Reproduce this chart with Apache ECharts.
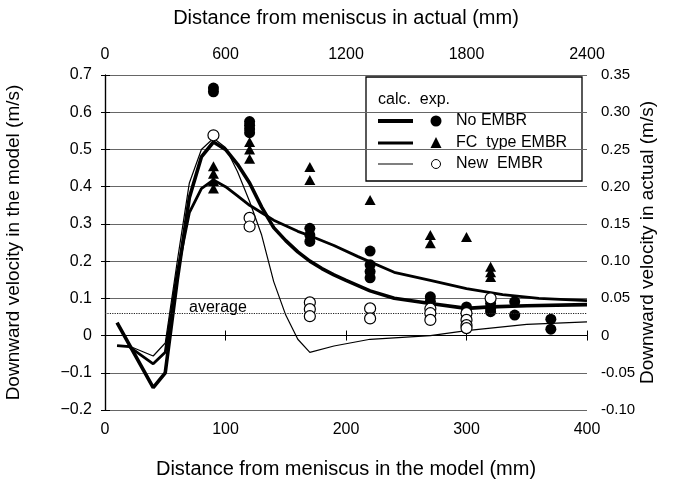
<!DOCTYPE html>
<html><head><meta charset="utf-8">
<script src="https://cdn.jsdelivr.net/npm/echarts/dist/echarts.min.js"></script>
<style>html,body{margin:0;padding:0;background:#fff}#c{width:687px;height:479px}</style>
</head><body><div id="c"></div>
<script>
// ---- calculated curves (model distance mm, velocity m/s) ----
const calcNoX  = [10, 40, 50, 60, 70, 80, 90, 100, 110, 120, 130, 140, 150, 160, 170, 180, 190, 200, 220, 240, 270, 300, 320, 350, 400];
const calcNoY  = [0.035, -0.14, -0.10, 0.15, 0.37, 0.48, 0.52, 0.50, 0.46, 0.41, 0.345, 0.29, 0.255, 0.225, 0.20, 0.18, 0.163, 0.148, 0.12, 0.10, 0.086, 0.073, 0.077, 0.08, 0.083];
const calcFCX  = [10, 20, 40, 50, 60, 70, 80, 90, 100, 110, 120, 130, 140, 150, 160, 170, 190, 210, 240, 270, 300, 330, 360, 400];
const calcFCY  = [-0.027, -0.03, -0.076, -0.045, 0.17, 0.33, 0.395, 0.418, 0.40, 0.375, 0.35, 0.33, 0.31, 0.295, 0.28, 0.268, 0.242, 0.212, 0.17, 0.148, 0.126, 0.11, 0.10, 0.094];
const calcNewX = [10, 20, 40, 50, 60, 70, 80, 90, 100, 110, 120, 130, 140, 150, 160, 170, 190, 220, 270, 300, 350, 400];
const calcNewY = [-0.027, -0.028, -0.055, -0.02, 0.20, 0.41, 0.50, 0.53, 0.505, 0.44, 0.36, 0.27, 0.145, 0.055, -0.01, -0.045, -0.028, -0.01, 0.0, 0.013, 0.03, 0.037];

// ---- experimental points [x, y] ----
const expNo = [[90,0.665],[90,0.655],[120,0.575],[120,0.565],[120,0.555],[120,0.545],
  [170,0.288],[170,0.27],[170,0.253],[220,0.227],[220,0.19],[220,0.172],[220,0.155],
  [270,0.104],[270,0.092],[300,0.077],[300,0.068],[320,0.086],[320,0.073],[320,0.064],
  [340,0.091],[340,0.055],[370,0.044],[370,0.017]];
const expFC = [[90,0.455],[90,0.435],[90,0.415],[90,0.395],[120,0.52],[120,0.50],[120,0.475],
  [170,0.453],[170,0.418],[220,0.364],[270,0.27],[270,0.248],[300,0.265],
  [320,0.185],[320,0.17],[320,0.157]];
const expNew = [[90,0.538],[120,0.316],[120,0.293],[170,0.089],[170,0.071],[170,0.052],
  [220,0.073],[220,0.046],[270,0.072],[270,0.06],[270,0.042],
  [300,0.06],[300,0.042],[300,0.028],[300,0.02],[320,0.1]];

const averageValue = 0.058;

const zip = (xs, ys) => xs.map((x, i) => [x, ys[i]]);
const FONT = 'Liberation Sans, Arial, sans-serif';
const lbl = {color:'#000', fontFamily: FONT, fontSize: 16};
const lblR = {color:'#000', fontFamily: FONT, fontSize: 15};
const xNameStyle = {color:'#000', fontFamily: FONT, fontSize: 20};
const yNameStyle = {color:'#000', fontFamily: FONT, fontSize: 19};

const chart = echarts.init(document.getElementById('c'), null, {renderer:'canvas'});
chart.setOption({
  backgroundColor:'#fff',
  animation:false,
  grid:{left:105, right:100, top:75, bottom:69, containLabel:false, outerBoundsMode:'none'},
  xAxis:[
    {type:'value', min:0, max:400, interval:100, position:'bottom',
     name:'Distance from meniscus in the model (mm)', nameLocation:'middle', nameGap:49, nameTextStyle:xNameStyle,
     axisLine:{lineStyle:{color:'#000', width:1.2}}, axisTick:{inside:true, length:5, lineStyle:{color:'#000'}},
     axisLabel:Object.assign({margin:12, formatter:v => String(v)}, lbl), splitLine:{show:false}},
    {type:'value', min:0, max:2400, interval:600, position:'top',
     name:'Distance from meniscus in actual (mm)', nameLocation:'middle', nameGap:47, nameTextStyle:xNameStyle,
     axisLine:{lineStyle:{color:'#000', width:1.2}}, axisTick:{inside:true, length:5, lineStyle:{color:'#000'}},
     axisLabel:Object.assign({margin:12, formatter:v => String(v)}, lbl), splitLine:{show:false}}
  ],
  yAxis:[
    {type:'value', min:-0.2, max:0.7, interval:0.1, position:'left',
     name:'Downward velocity in the model (m/s)', nameLocation:'middle', nameGap:82, nameRotate:90, nameTextStyle:yNameStyle,
     axisLine:{show:true, lineStyle:{color:'#000', width:1.2}}, axisTick:{inside:true, length:5, lineStyle:{color:'#000'}},
     axisLabel:Object.assign({margin:13, formatter:v => Math.abs(v)<1e-9 ? '0' : (v<0?'\u2212':'') + Math.abs(v).toFixed(1)}, lbl),
     splitLine:{show:true, lineStyle:{color:'#666', width:1}}},
    {type:'value', min:-0.1, max:0.35, interval:0.05, position:'right',
     name:'Downward velocity in actual (m/s)', nameLocation:'middle', nameGap:51, nameRotate:90, nameTextStyle:yNameStyle,
     nameMoveOverlap:false,
     axisLine:{show:true, lineStyle:{color:'#000', width:1.2}}, axisTick:{inside:true, length:4, lineStyle:{color:'#000'}},
     axisLabel:Object.assign({margin:14, formatter:v => Math.abs(v)<1e-9 ? '0' : v.toFixed(2)}, lblR),
     splitLine:{show:false}}
  ],
  series:[
    {name:'No EMBR calc', type:'line', data:zip(calcNoX, calcNoY), symbol:'none', z:3,
     lineStyle:{color:'#000', width:3.6}},
    {name:'FC type EMBR calc', type:'line', data:zip(calcFCX, calcFCY), symbol:'none', z:3,
     lineStyle:{color:'#000', width:2.8},
     markLine:{silent:true, symbol:'none', data:[{yAxis:averageValue}],
       lineStyle:{color:'#222', type:'dotted', width:1.2},
       label:{show:true, formatter:'average', position:'insideStartTop', distance:[84, -2],
              color:'#000', fontFamily:FONT, fontSize:16}}},
    {name:'New EMBR calc', type:'line', data:zip(calcNewX, calcNewY), symbol:'none', z:3,
     lineStyle:{color:'#000', width:1.2}},
    {name:'No EMBR exp', type:'scatter', data:expNo, symbol:'circle', symbolSize:11, z:4,
     itemStyle:{color:'#000', opacity:1}},
    {name:'FC type EMBR exp', type:'scatter', data:expFC, symbol:'triangle', symbolSize:[11,10], z:4,
     itemStyle:{color:'#000', opacity:1}},
    {name:'New EMBR exp', type:'scatter', data:expNew, symbol:'circle', symbolSize:11, z:5,
     itemStyle:{color:'#fff', borderColor:'#000', borderWidth:1.2, opacity:1}}
  ],
  graphic:[
    {type:'group', z:100, children:[
      {type:'rect', shape:{x:366, y:77, width:216, height:104}, style:{fill:'#fff', stroke:'#000', lineWidth:1.3}},
      {type:'text', x:378, y:100, style:{text:'calc.  exp.', fill:'#000', font:'16px Liberation Sans, Arial', textVerticalAlign:'middle'}},
      {type:'line', shape:{x1:378, y1:121, x2:413, y2:121}, style:{stroke:'#000', lineWidth:4}},
      {type:'line', shape:{x1:378, y1:143, x2:413, y2:143}, style:{stroke:'#000', lineWidth:2.8}},
      {type:'line', shape:{x1:378, y1:164, x2:413, y2:164}, style:{stroke:'#000', lineWidth:1.2}},
      {type:'circle', shape:{cx:436, cy:121, r:5.5}, style:{fill:'#000'}},
      {type:'polygon', shape:{points:[[436,137],[441.5,148],[430.5,148]]}, style:{fill:'#000'}},
      {type:'circle', shape:{cx:436, cy:164, r:4.5}, style:{fill:'#fff', stroke:'#000', lineWidth:1}},
      {type:'text', x:456, y:121, style:{text:'No EMBR', fill:'#000', font:'16px Liberation Sans, Arial', textVerticalAlign:'middle'}},
      {type:'text', x:456, y:143, style:{text:'FC  type EMBR', fill:'#000', font:'16px Liberation Sans, Arial', textVerticalAlign:'middle'}},
      {type:'text', x:456, y:164, style:{text:'New  EMBR', fill:'#000', font:'16px Liberation Sans, Arial', textVerticalAlign:'middle'}}
    ]}
  ]
});
</script></body></html>
